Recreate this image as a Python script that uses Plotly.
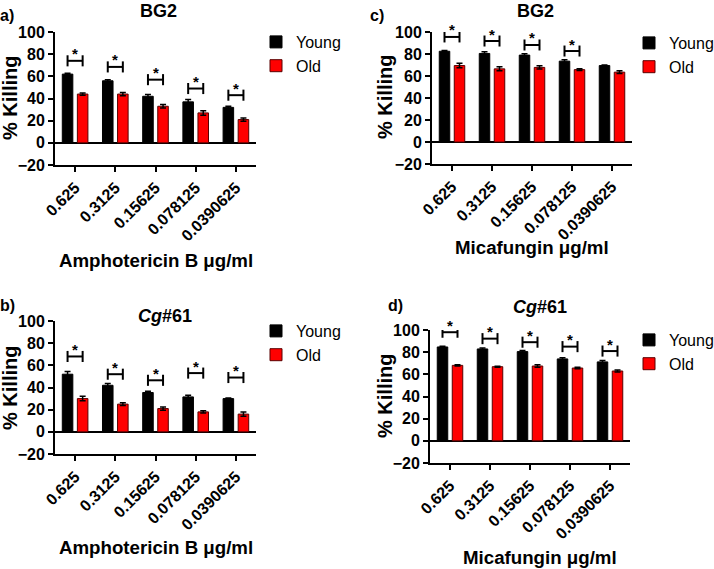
import plotly.graph_objects as go

W, H = 714, 569

concentrations = ["0.625", "0.3125", "0.15625", "0.078125", "0.0390625"]

# Panel a: BG2, Amphotericin B
a_young = [62, 56, 42, 37, 32]
a_young_err = [0.7, 1.0, 1.5, 2.0, 1.0]
a_old = [44, 44, 33, 27, 21]
a_old_err = [1.0, 1.5, 1.5, 2.0, 1.5]
a_brackets = [74, 68.5, 57, 49, 43]

# Panel b: Cg#61, Amphotericin B
b_young = [52, 42, 35.5, 31.5, 30]
b_young_err = [2.5, 1.5, 1.2, 1.5, 0.5]
b_old = [30, 25, 21, 18, 16]
b_old_err = [2.0, 1.2, 1.5, 1.0, 2.0]
b_brackets = [68, 52, 46.5, 53, 49]

# Panel c: BG2, Micafungin
c_young = [82.5, 80.5, 79, 73.5, 69.5]
c_young_err = [0.6, 1.5, 1.2, 1.2, 0.5]
c_old = [69.5, 66.5, 67.8, 65.8, 63.5]
c_old_err = [2.0, 1.8, 1.5, 0.8, 1.2]
c_brackets = [95.5, 91.8, 88.2, 82.7, None]

# Panel d: Cg#61, Micafungin
d_young = [84.7, 82.9, 80.5, 73.9, 71.2]
d_young_err = [0.6, 0.8, 1.0, 1.0, 1.2]
d_old = [68.1, 66.9, 67.5, 65.7, 63.0]
d_old_err = [0.6, 0.5, 1.2, 0.6, 0.8]
d_brackets = [98, 92.2, 89, 85, 81]

panel_letters = ["a)", "b)", "c)", "d)"]
panel_titles = ["<b>BG2</b>", "<b><i>Cg</i>#61</b>", "<b>BG2</b>", "<b><i>Cg</i>#61</b>"]
x_titles = ["Amphotericin B μg/ml", "Amphotericin B μg/ml", "Micafungin μg/ml", "Micafungin μg/ml"]
y_title = "% Killing"

FONT = "Liberation Sans, Arial, sans-serif"
RED = "#ff0000"

def px(x):
    return x / W

def py(y):
    return 1 - y / H

panels = [
    dict(young=a_young, ye=a_young_err, old=a_old, oe=a_old_err, br=a_brackets,
         xd=(55, 256), yd=(32, 165), title=(158, 11), letter=(7, 15), xt=(156, 260), yt=(10, 98),
         leg=(256, 25)),
    dict(young=b_young, ye=b_young_err, old=b_old, oe=b_old_err, br=b_brackets,
         xd=(55, 256), yd=(321, 454), title=(165, 316), letter=(7, 305), xt=(156, 547), yt=(10, 388),
         leg=(256, 314)),
    dict(young=c_young, ye=c_young_err, old=c_old, oe=c_old_err, br=c_brackets,
         xd=(432, 632), yd=(32, 164), title=(535, 11), letter=(377, 15), xt=(532, 248), yt=(385, 97),
         leg=(629, 26)),
    dict(young=d_young, ye=d_young_err, old=d_old, oe=d_old_err, br=d_brackets,
         xd=(430, 630), yd=(330, 463), title=(540, 307), letter=(395, 305), xt=(540, 557), yt=(385, 396),
         leg=(629, 323)),
]

fig = go.Figure()
layout = dict(
    width=W, height=H, margin=dict(l=0, r=0, t=0, b=0, autoexpand=False),
    paper_bgcolor="white", plot_bgcolor="white",
    barmode="group", bargap=0.25, bargroupgap=0.3,
    font=dict(family=FONT, color="black"),
)
annotations = []
xpos = list(range(len(concentrations)))

for k, p in enumerate(panels):
    n = k + 1
    xa = "x" if n == 1 else f"x{n}"
    ya = "y" if n == 1 else f"y{n}"
    leg = "legend" if n == 1 else f"legend{n}"
    fig.add_trace(go.Bar(
        x=xpos, y=p["young"], name="Young", xaxis=xa, yaxis=ya, legend=leg,
        marker=dict(color="black", line=dict(color="black", width=1)),
        error_y=dict(type="data", array=p["ye"], color="black", thickness=1.5, width=3),
    ))
    fig.add_trace(go.Bar(
        x=xpos, y=p["old"], name="Old", xaxis=xa, yaxis=ya, legend=leg,
        marker=dict(color=RED, line=dict(color="#5a0000", width=1)),
        error_y=dict(type="data", array=p["oe"], color="black", thickness=1.5, width=3),
    ))
    # significance brackets
    bx, by = [], []
    for i, b in enumerate(p["br"]):
        if b is None:
            continue
        l, r = i - 0.1875, i + 0.1875
        bx += [l, l, None, l, r, None, r, r, None]
        by += [b - 5, b + 5, None, b, b, None, b - 5, b + 5, None]
        annotations.append(dict(x=i, y=b, xref=xa, yref=ya, text="<b>*</b>", showarrow=False,
                                font=dict(size=15, family=FONT, color="black"),
                                yanchor="middle", yshift=7))
    fig.add_trace(go.Scatter(x=bx, y=by, mode="lines", xaxis=xa, yaxis=ya,
                             line=dict(color="black", width=2), showlegend=False,
                             hoverinfo="skip"))

    axkey = "xaxis" if n == 1 else f"xaxis{n}"
    aykey = "yaxis" if n == 1 else f"yaxis{n}"
    layout[axkey] = dict(
        domain=[px(p["xd"][0]), px(p["xd"][1])], anchor=ya, range=[-0.5, 4.5],
        tickmode="array", tickvals=xpos, ticktext=concentrations, tickangle=-45,
        tickfont=dict(size=16, family=FONT, weight="bold", color="black"),
        showline=True, linecolor="black", linewidth=2, ticks="outside", ticklen=5,
        tickwidth=1.5, tickcolor="black", showgrid=False, zeroline=False, fixedrange=True,
        automargin=False,
    )
    layout[aykey] = dict(
        domain=[py(p["yd"][1]), py(p["yd"][0])], anchor=xa, range=[-20, 100],
        tickmode="array", tickvals=[-20, 0, 20, 40, 60, 80, 100],
        tickfont=dict(size=16, family=FONT, weight="bold", color="black"),
        showline=True, linecolor="black", linewidth=2, ticks="outside", ticklen=5,
        tickwidth=1.5, tickcolor="black", showgrid=False,
        zeroline=True, zerolinecolor="black", zerolinewidth=1.5, fixedrange=True,
        automargin=False,
    )
    layout[leg] = dict(
        x=px(p["leg"][0]), y=py(p["leg"][1]), xanchor="left", yanchor="top",
        font=dict(size=16, family=FONT, color="black"), bgcolor="rgba(0,0,0,0)",
        tracegroupgap=0, itemclick=False, itemdoubleclick=False,
    )
    # panel title
    annotations.append(dict(x=px(p["title"][0]), y=py(p["title"][1]), xref="paper", yref="paper",
                            text=panel_titles[k], showarrow=False,
                            font=dict(size=18, family=FONT, color="black"),
                            xanchor="center", yanchor="middle"))
    # panel letter
    annotations.append(dict(x=px(p["letter"][0]), y=py(p["letter"][1]), xref="paper", yref="paper",
                            text="<b>" + panel_letters[k] + "</b>", showarrow=False,
                            font=dict(size=16, family=FONT, color="black"),
                            xanchor="center", yanchor="middle"))
    # x title
    annotations.append(dict(x=px(p["xt"][0]), y=py(p["xt"][1]), xref="paper", yref="paper",
                            text="<b>" + x_titles[k] + "</b>", showarrow=False,
                            font=dict(size=18.7, family=FONT, color="black"),
                            xanchor="center", yanchor="middle"))
    # y title
    annotations.append(dict(x=px(p["yt"][0]), y=py(p["yt"][1]), xref="paper", yref="paper",
                            text="<b>" + y_title + "</b>", showarrow=False, textangle=-90,
                            font=dict(size=20, family=FONT, color="black"),
                            xanchor="center", yanchor="middle"))

layout["annotations"] = annotations
fig.update_layout(**layout)
fig.write_html("out.html", config={"displayModeBar": False},
               post_script="document.body.style.margin='0';document.body.style.overflow='hidden';")
